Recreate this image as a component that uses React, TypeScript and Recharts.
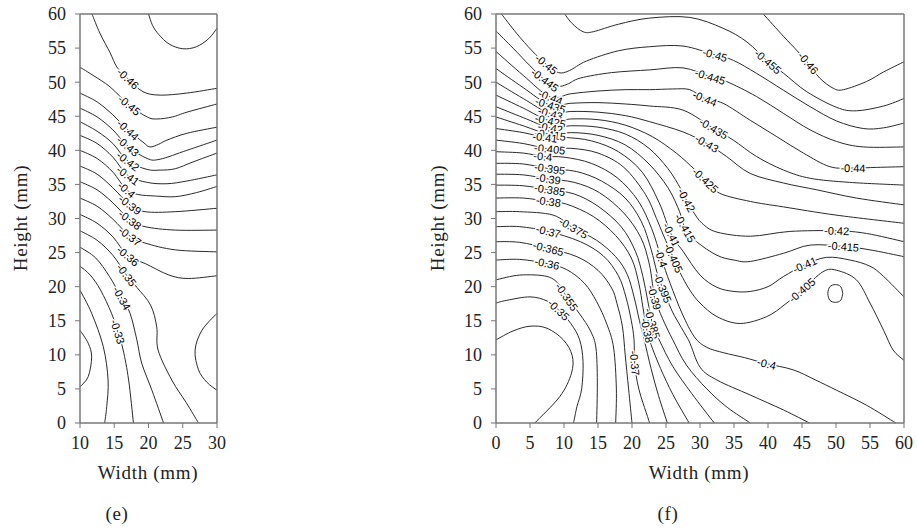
import React from 'react'
import { Line, LineChart, XAxis, YAxis } from 'recharts'

type Pt = [number, number]

// axis ticks
const heightTicks = [0, 5, 10, 15, 20, 25, 30, 35, 40, 45, 50, 55, 60]
const eWidthTicks = [10, 15, 20, 25, 30]
const fWidthTicks = [0, 5, 10, 15, 20, 25, 30, 35, 40, 45, 50, 55, 60]

// ---- panel (e) contour lines, [width mm, height mm]
const e047: Pt[] = [[20.0, 60], [20.6, 58.3], [21.5, 57.0], [23.0, 55.6], [25.0, 54.9], [27.0, 55.2], [28.8, 56.4], [30, 57.9]]
const e046: Pt[] = [[11.75, 60], [12.9, 57.2], [14.4, 54.3], [15.4, 52.2], [17.0, 50.5], [19.2, 48.6], [21.7, 48.1], [25.6, 48.4], [30, 49.1]]
const e045: Pt[] = [[10, 52.2], [11.9, 51.0], [14.4, 49.3], [17.2, 46.6], [19.8, 44.9], [21.2, 44.6], [23.5, 44.9], [25.6, 45.6], [30, 46.8]]
const e044: Pt[] = [[10, 48.4], [12.5, 47.1], [14.8, 45.2], [17, 43.0], [19.2, 41.2], [20.2, 40.5], [21.5, 40.9], [22.7, 41.5], [25.6, 42.5], [30, 43.4]]
const e043: Pt[] = [[10, 46.2], [12.5, 44.9], [14.8, 43.0], [17, 40.6], [19.8, 38.8], [21.7, 38.7], [25.6, 40.0], [30, 41.5]]
const e042: Pt[] = [[10, 44.2], [12.5, 42.8], [14.8, 41.0], [17, 38.4], [19.8, 37.2], [21.7, 37.1], [23.9, 37.3], [26.5, 38.3], [30, 39.6]]
const e041: Pt[] = [[10, 42.2], [12.5, 41.0], [14.8, 39.0], [17, 36.3], [19.8, 35.3], [22.7, 35.1], [25.6, 35.5], [30, 36.4]]
const e040: Pt[] = [[10, 40.0], [12.5, 38.8], [14.8, 36.8], [16.8, 34.2], [18.6, 33.5], [21, 33.3], [23.9, 33.2], [27, 33.8], [30, 34.7]]
const e039: Pt[] = [[10, 37.7], [12.5, 36.5], [14.8, 34.5], [17.3, 32.0], [19.5, 31.0], [23.9, 31.0], [30, 31.5]]
const e038: Pt[] = [[10, 35.4], [12.5, 34.2], [14.8, 32.3], [17.3, 29.8], [19.5, 28.8], [23.9, 28.3], [30, 28.3]]
const e037: Pt[] = [[10, 33.0], [12.5, 31.8], [14.8, 29.9], [17.3, 27.4], [19.5, 26.4], [23.9, 25.4], [30, 25.1]]
const e036: Pt[] = [[10, 30.6], [12.5, 29.3], [14.8, 27.3], [17.0, 24.5], [19.5, 23.4], [23.0, 21.7], [25.8, 21.2], [30, 21.6]]
const e035: Pt[] = [[10, 28.2], [12.5, 26.8], [14.8, 24.6], [16.8, 21.7], [18.3, 19.9], [20.3, 17.3], [21.2, 14.1], [21.4, 10.7], [23.4, 6.3], [25.5, 3], [27.3, 0]]
const e034: Pt[] = [[10, 25.8], [12.3, 24.2], [14.3, 21.5], [16.1, 18.3], [17.3, 16.1], [18.3, 12.2], [19.0, 8.8], [20.5, 4.8], [22.2, 0]]
const e033: Pt[] = [[10, 23.0], [11.5, 21.7], [13.0, 19.5], [14.6, 16.1], [15.5, 13.4], [16.3, 10.7], [17.1, 6.3], [17.8, 0]]
const e032: Pt[] = [[10, 19.5], [11.7, 16.1], [13.4, 11.2], [14.1, 6.3], [13.9, 2.4], [13.6, 0]]
const e031: Pt[] = [[10, 13.6], [11.2, 11.7], [11.7, 9.7], [11.2, 6.8], [10, 5.3]]
const e036b: Pt[] = [[30, 16.1], [27.8, 13.6], [26.8, 10.7], [27.3, 7.8], [28.5, 6.0], [30, 4.8]]

// ---- panel (f) contour lines
const f046: Pt[] = [[39.3, 60], [42.3, 56.7], [44.2, 54.7], [45.9, 52.8], [47.6, 50.6], [49.6, 49.1], [51.1, 48.9], [54.5, 50.1], [57, 51.5], [60, 53.0]]
const f0455: Pt[] = [[10.1, 60], [11.2, 58.6], [12.8, 57.4], [14.3, 57.4], [18, 58.5], [22.6, 59.4], [28.5, 59.5], [33.4, 57.9], [36.9, 55.9], [40.0, 53.0], [42.3, 51.3], [45.7, 48.6], [50.1, 46.3], [53, 45.8], [57, 46.5], [60, 47.6]]
const f045: Pt[] = [[0.8, 60], [3, 57.2], [5.3, 54.6], [7.4, 52.6], [9.2, 51.4], [10.8, 51.7], [13.3, 53.1], [18, 54.6], [22.6, 55.2], [27.5, 55.3], [32.2, 54.0], [34.9, 53.2], [38.3, 51.3], [42.3, 48.8], [46.2, 46.4], [50.1, 44.3], [54, 43.2], [57, 43.3], [60, 44.0]]
const f0445: Pt[] = [[0, 57.5], [2.5, 55.0], [5, 52.4], [7.2, 50.3], [9, 49.4], [10.5, 49.7], [12.4, 50.6], [17, 51.4], [22.6, 51.8], [27.5, 52.1], [31.5, 50.8], [33.9, 50.1], [38.3, 47.9], [42.3, 45.4], [46.2, 43.0], [50.1, 41.3], [54, 40.5], [60, 40.5]]
const f044: Pt[] = [[0, 54.5], [4, 51.0], [8, 47.8], [11, 48.3], [15, 48.7], [19, 48.9], [22.6, 48.9], [26, 49.0], [28.5, 48.9], [30.7, 47.6], [33.4, 46.9], [37.4, 44.4], [41.3, 42.0], [45.2, 39.6], [49.1, 37.6], [52.5, 37.4], [56, 37.5], [60, 37.6]]
const f0435: Pt[] = [[0, 52.0], [4, 49.2], [8, 46.6], [11, 46.9], [15, 47.0], [19, 46.8], [22.6, 46.5], [27.5, 45.9], [32.0, 43.2], [34.9, 41.5], [38.3, 39.1], [42.3, 37.1], [46.2, 35.9], [52, 35.3], [60, 34.9]]
const f043: Pt[] = [[0, 50.0], [4, 47.6], [8, 45.4], [11, 45.7], [15, 45.6], [19, 45.1], [22.6, 44.2], [27.5, 42.7], [31.0, 41.0], [33.9, 39.1], [37.4, 36.6], [42.3, 35.2], [47.2, 34.2], [53, 33.0], [60, 32.0]]
const f0425: Pt[] = [[0, 48.1], [4, 46.2], [8, 44.3], [11, 44.6], [15, 44.5], [19, 43.7], [23, 42], [26.5, 39.6], [29.2, 37.2], [30.8, 35.6], [32.9, 33.7], [37.4, 32.5], [42.3, 31.7], [50, 30.5], [60, 29.3]]
const f042: Pt[] = [[0, 46.4], [4, 44.8], [8, 43.3], [11, 43.6], [15, 43.4], [19, 42.4], [22.5, 40.3], [25.3, 37.3], [27.2, 34.3], [28.0, 32.7], [29, 31.0], [30.3, 29.3], [32.5, 28.0], [37.4, 27.4], [43.2, 28.1], [50.1, 28.2], [54.5, 27.8], [60, 26.6]]
const f0415: Pt[] = [[0, 44.9], [4, 43.6], [8, 42.3], [11, 42.6], [15, 42.2], [19, 40.8], [22.5, 38], [25.3, 34.5], [27.0, 31], [27.8, 28.6], [29.5, 26.6], [32.5, 24.6], [35, 23.9], [37.4, 23.7], [42.3, 24.9], [46.2, 26.1], [51.1, 25.9], [55, 25.4], [60, 24.4]]
const f041: Pt[] = [[0, 43.2], [4, 42.6], [7.2, 41.9], [10, 41.9], [14, 41.4], [18, 39.8], [21.5, 36.8], [24, 32.3], [25.8, 27.6], [27.5, 25.2], [30, 21.7], [32.5, 19.9], [35, 19.3], [37.4, 19.3], [40, 20], [42.3, 21.5], [45.4, 23.2], [48.6, 24.3], [52.1, 23.9], [55, 23.0], [57, 21.5], [60, 18.5]]
const f0405: Pt[] = [[0, 41.5], [4, 41.0], [7.9, 40.2], [11, 40.3], [15, 39.6], [18.8, 37.5], [22, 33.5], [23.6, 30], [24.6, 27.6], [26.1, 24.2], [27.1, 22.0], [28.5, 19.5], [30, 17.6], [32.5, 15.6], [35.9, 14.6], [39.8, 15.6], [42.5, 17.4], [45, 19.5], [48.1, 22.2], [50.1, 22.4], [53, 21.0], [55, 17.6], [57, 13.6], [58.4, 10.7], [60, 9.2]]
const f040: Pt[] = [[0, 39.8], [4, 39.6], [6.9, 39.1], [10, 39.0], [14, 38.1], [17.8, 36], [20.9, 32.6], [22.9, 28.5], [24.3, 24.2], [25.6, 20.5], [27.4, 16], [29.2, 12.6], [31, 11.1], [33.5, 10.3], [36.5, 9.6], [39.8, 8.7], [43.7, 7.8], [47, 6.3], [50.1, 4.8], [54.5, 2.6], [58.8, 0]]
const f0395: Pt[] = [[0, 38.1], [4, 38.0], [7.9, 37.3], [11.8, 36.9], [15.5, 35.5], [19, 33], [21.4, 29.5], [22.8, 25.5], [23.7, 22], [24.5, 19.8], [26.2, 15.8], [28.3, 12.2], [30, 8.2], [32.5, 6.3], [37.4, 4.1], [42.3, 1.9], [46.1, 0]]
const f039: Pt[] = [[0, 36.5], [4, 36.4], [7.7, 35.8], [11.5, 35.3], [15.2, 33.8], [18.8, 30.8], [21.3, 27.2], [22.5, 23.5], [23.0, 20.5], [23.3, 18.4], [24.5, 15.3], [26.0, 12.2], [28, 8.5], [31, 5], [34, 2.3], [37.4, 0]]
const f0385: Pt[] = [[0, 34.9], [4, 34.8], [7.9, 34.2], [11.5, 33.6], [15, 31.8], [18.4, 28.8], [20.5, 25.2], [21.6, 21.5], [22.3, 18], [23.0, 14.6], [24.0, 12.2], [26.0, 8.3], [28.8, 4.3], [32.1, 0]]
const f038: Pt[] = [[0, 33.0], [4, 33.0], [7.7, 32.5], [10.4, 32.1], [14.3, 30.3], [17.6, 27.5], [19.9, 24.2], [21.0, 20.5], [21.6, 17], [22.2, 13.6], [22.8, 11.5], [24.2, 8], [26, 4.2], [28.4, 0]]
const f0375: Pt[] = [[0, 31.0], [3.5, 31.0], [8.4, 30.5], [11.4, 28.6], [14.8, 26.8], [17.6, 24.4], [19.3, 21.8], [20.3, 18.5], [21.1, 15], [21.8, 12.2], [22.8, 8], [23.9, 4], [25.2, 0]]
const f037: Pt[] = [[0, 28.8], [3.5, 28.8], [7.7, 28.1], [12.4, 26.6], [15.8, 24.5], [18.0, 21.6], [19.1, 18.5], [19.9, 15], [20.3, 12.2], [20.4, 8.8], [21.0, 5], [22.6, 0]]
const f0365: Pt[] = [[0, 26.6], [3.5, 26.5], [7.7, 25.6], [11.9, 24.4], [15, 22.4], [17.0, 19.8], [17.8, 17.5], [18.6, 14.1], [19.0, 10], [19.5, 5], [20.0, 0]]
const f036: Pt[] = [[0, 23.9], [3.5, 24.0], [7.5, 23.4], [10.4, 22.5], [13.0, 20.5], [14.8, 17.8], [16.3, 14.5], [17.3, 11], [17.7, 5], [17.6, 0]]
const f0355: Pt[] = [[0, 21.0], [3.5, 21.7], [7.5, 21.5], [9.4, 20.2], [10.4, 18.5], [12.3, 16], [13.9, 13.5], [14.7, 11], [14.9, 6], [14.8, 0]]
const f035: Pt[] = [[0, 17.6], [1.6, 18.0], [5, 18.5], [7.5, 17.9], [9.2, 16.6], [11.0, 14.6], [12.3, 12.2], [12.8, 9], [12.6, 5], [11.9, 2.4], [11.4, 0]]
const f0345: Pt[] = [[0, 12.2], [2.5, 13.5], [5, 14.2], [7.5, 13.9], [9.9, 12.2], [11.2, 9.9], [11.1, 7.3], [9.4, 3.9], [5.7, 0]]
const fLoop: Pt[] = [[51.0, 19.0], [50.7, 20.0], [49.9, 20.3], [49.1, 20.0], [48.8, 19.0], [49.1, 18.0], [49.9, 17.7], [50.7, 18.0], [51.0, 19.0]]

interface Contour {
  level: string
  pts: Pt[]
  at: number[] // indices of points that carry the level label
}

const eContours: Contour[] = [
  { level: '-0.47', pts: e047, at: [] },
  { level: '-0.46', pts: e046, at: [4] },
  { level: '-0.45', pts: e045, at: [3] },
  { level: '-0.44', pts: e044, at: [3] },
  { level: '-0.43', pts: e043, at: [3] },
  { level: '-0.42', pts: e042, at: [3] },
  { level: '-0.41', pts: e041, at: [3] },
  { level: '-0.4', pts: e040, at: [3] },
  { level: '-0.39', pts: e039, at: [3] },
  { level: '-0.38', pts: e038, at: [3] },
  { level: '-0.37', pts: e037, at: [3] },
  { level: '-0.36', pts: e036, at: [3] },
  { level: '-0.35', pts: e035, at: [3] },
  { level: '-0.34', pts: e034, at: [3] },
  { level: '-0.33', pts: e033, at: [4] },
  { level: '-0.32', pts: e032, at: [] },
  { level: '-0.31', pts: e031, at: [] },
  { level: '-0.36', pts: e036b, at: [] },
]

const fContours: Contour[] = [
  { level: '-0.46', pts: f046, at: [3] },
  { level: '-0.455', pts: f0455, at: [9] },
  { level: '-0.45', pts: f045, at: [3, 10] },
  { level: '-0.445', pts: f0445, at: [3, 10] },
  { level: '-0.44', pts: f044, at: [2, 9, 15] },
  { level: '-0.435', pts: f0435, at: [2, 8] },
  { level: '-0.43', pts: f043, at: [2, 8] },
  { level: '-0.425', pts: f0425, at: [2, 9] },
  { level: '-0.42', pts: f042, at: [2, 9, 15] },
  { level: '-0.415', pts: f0415, at: [2, 9, 16] },
  { level: '-0.41', pts: f041, at: [2, 8, 16] },
  { level: '-0.405', pts: f0405, at: [2, 9, 17] },
  { level: '-0.4', pts: f040, at: [2, 8, 15] },
  { level: '-0.395', pts: f0395, at: [2, 9] },
  { level: '-0.39', pts: f039, at: [2, 9] },
  { level: '-0.385', pts: f0385, at: [2, 9] },
  { level: '-0.38', pts: f038, at: [2, 9] },
  { level: '-0.375', pts: f0375, at: [3] },
  { level: '-0.37', pts: f037, at: [2, 9] },
  { level: '-0.365', pts: f0365, at: [2] },
  { level: '-0.36', pts: f036, at: [2] },
  { level: '-0.355', pts: f0355, at: [4] },
  { level: '-0.35', pts: f035, at: [4] },
  { level: '-0.345', pts: f0345, at: [] },
  { level: '-0.4', pts: fLoop, at: [] },
]

// Catmull-Rom curve (passes through every point, works for non-monotone x)
const smooth: any = (ctx: any) => {
  let pts: number[][] = []
  return {
    areaStart() {},
    areaEnd() {},
    lineStart() {
      pts = []
    },
    point(x: number, y: number) {
      pts.push([+x, +y])
    },
    lineEnd() {
      const n = pts.length
      if (!n) return
      ctx.moveTo(pts[0][0], pts[0][1])
      for (let i = 0; i < n - 1; i++) {
        const p0 = pts[Math.max(i - 1, 0)]
        const p1 = pts[i]
        const p2 = pts[i + 1]
        const p3 = pts[Math.min(i + 2, n - 1)]
        ctx.bezierCurveTo(
          p1[0] + (p2[0] - p0[0]) / 6,
          p1[1] + (p2[1] - p0[1]) / 6,
          p2[0] - (p3[0] - p1[0]) / 6,
          p2[1] - (p3[1] - p1[1]) / 6,
          p2[0],
          p2[1],
        )
      }
    },
  }
}

const toRows = (pts: Pt[]) => pts.map(([x, y]) => ({ x, y }))

const labelDot = (c: Contour, kx: number, ky: number) => (p: any) => {
  const i = p.index
  if (!c.at.includes(i) || p.cx == null) return <g key={`d-${i}`} />
  const a = c.pts[Math.max(i - 1, 0)]
  const b = c.pts[Math.min(i + 1, c.pts.length - 1)]
  let ang = (Math.atan2(-(b[1] - a[1]) * ky, (b[0] - a[0]) * kx) * 180) / Math.PI
  if (ang > 90) ang -= 180
  if (ang < -90) ang += 180
  return (
    <text
      key={`d-${i}`}
      x={p.cx}
      y={p.cy}
      transform={`rotate(${ang.toFixed(1)} ${p.cx} ${p.cy})`}
      textAnchor="middle"
      dominantBaseline="central"
      fontFamily="'Liberation Sans', Arial, sans-serif"
      fontSize={11}
      fill="#000"
      stroke="#fff"
      strokeWidth={3}
      strokeLinejoin="round"
      paintOrder="stroke"
    >
      {c.level}
    </text>
  )
}

const tickFont = { fontFamily: "'Liberation Serif', serif", fontSize: 18, fill: '#222' }
const axisStroke = { stroke: '#777', strokeWidth: 1.5 }

function ContourPanel({
  contours,
  widthTicks,
  xDomain,
  width,
  margin,
  kx,
  ky,
}: {
  contours: Contour[]
  widthTicks: number[]
  xDomain: [number, number]
  width: number
  margin: { top: number; right: number; bottom: number; left: number }
  kx: number
  ky: number
}) {
  return (
    <LineChart width={width} height={529} margin={margin}>
      <XAxis
        type="number"
        dataKey="x"
        domain={xDomain}
        ticks={widthTicks}
        tick={tickFont}
        tickSize={5}
        tickMargin={8}
        height={30}
        axisLine={axisStroke}
        tickLine={{ stroke: '#777' }}
      />
      <XAxis
        xAxisId="top"
        orientation="top"
        type="number"
        domain={xDomain}
        ticks={widthTicks}
        allowDataOverflow
        tick={false}
        tickSize={5}
        height={5}
        axisLine={axisStroke}
        tickLine={{ stroke: '#777' }}
      />
      <YAxis
        type="number"
        domain={[0, 60]}
        ticks={heightTicks}
        tick={tickFont}
        tickSize={5}
        tickMargin={9}
        width={40}
        axisLine={axisStroke}
        tickLine={{ stroke: '#777' }}
      />
      <YAxis
        yAxisId="right"
        orientation="right"
        type="number"
        domain={[0, 60]}
        ticks={heightTicks}
        allowDataOverflow
        tick={false}
        tickSize={5}
        width={5}
        axisLine={axisStroke}
        tickLine={{ stroke: '#777' }}
      />
      {contours.map((c, k) => (
        <Line
          key={`c-${k}`}
          data={toRows(c.pts)}
          dataKey="y"
          type={smooth}
          stroke="#2a2a2a"
          strokeWidth={1}
          dot={false}
          activeDot={false}
          isAnimationActive={false}
        />
      ))}
      {contours
        .filter((c) => c.at.length > 0)
        .map((c, k) => (
          <Line
            key={`l-${k}`}
            data={toRows(c.pts)}
            dataKey="y"
            type="linear"
            stroke="none"
            dot={labelDot(c, kx, ky)}
            activeDot={false}
            isAnimationActive={false}
          />
        ))}
    </LineChart>
  )
}

const titleStyle: React.CSSProperties = {
  position: 'absolute',
  fontFamily: "'Liberation Serif', serif",
  fontSize: 19,
  letterSpacing: 0.7,
  color: '#222',
  whiteSpace: 'nowrap',
  lineHeight: 1,
}

function Title({ x, y, text, vertical }: { x: number; y: number; text: string; vertical?: boolean }) {
  return (
    <div
      style={{
        ...titleStyle,
        left: x,
        top: y,
        transform: `translate(-50%, -50%)${vertical ? ' rotate(-90deg)' : ''}`,
      }}
    >
      {text}
    </div>
  )
}

export default function App() {
  return (
    <div style={{ position: 'absolute', left: 0, top: 0, width: 917, height: 529, background: '#fff', overflow: 'hidden' }}>
      <div style={{ position: 'absolute', left: 0, top: 0 }}>
        <ContourPanel
          contours={eContours}
          widthTicks={eWidthTicks}
          xDomain={[10, 30]}
          width={240}
          margin={{ top: 9, right: 18, bottom: 76, left: 40 }}
          kx={6.85}
          ky={6.82}
        />
      </div>
      <div style={{ position: 'absolute', left: 420, top: 0 }}>
        <ContourPanel
          contours={fContours}
          widthTicks={fWidthTicks}
          xDomain={[0, 60]}
          width={497}
          margin={{ top: 9, right: 8, bottom: 76, left: 36 }}
          kx={6.8}
          ky={6.82}
        />
      </div>
      <Title x={20} y={218} text="Height (mm)" vertical />
      <Title x={437} y={218} text="Height (mm)" vertical />
      <Title x={148} y={472} text="Width (mm)" />
      <Title x={699} y={472} text="Width (mm)" />
      <Title x={117} y={513} text="(e)" />
      <Title x={668} y={513} text="(f)" />
    </div>
  )
}
